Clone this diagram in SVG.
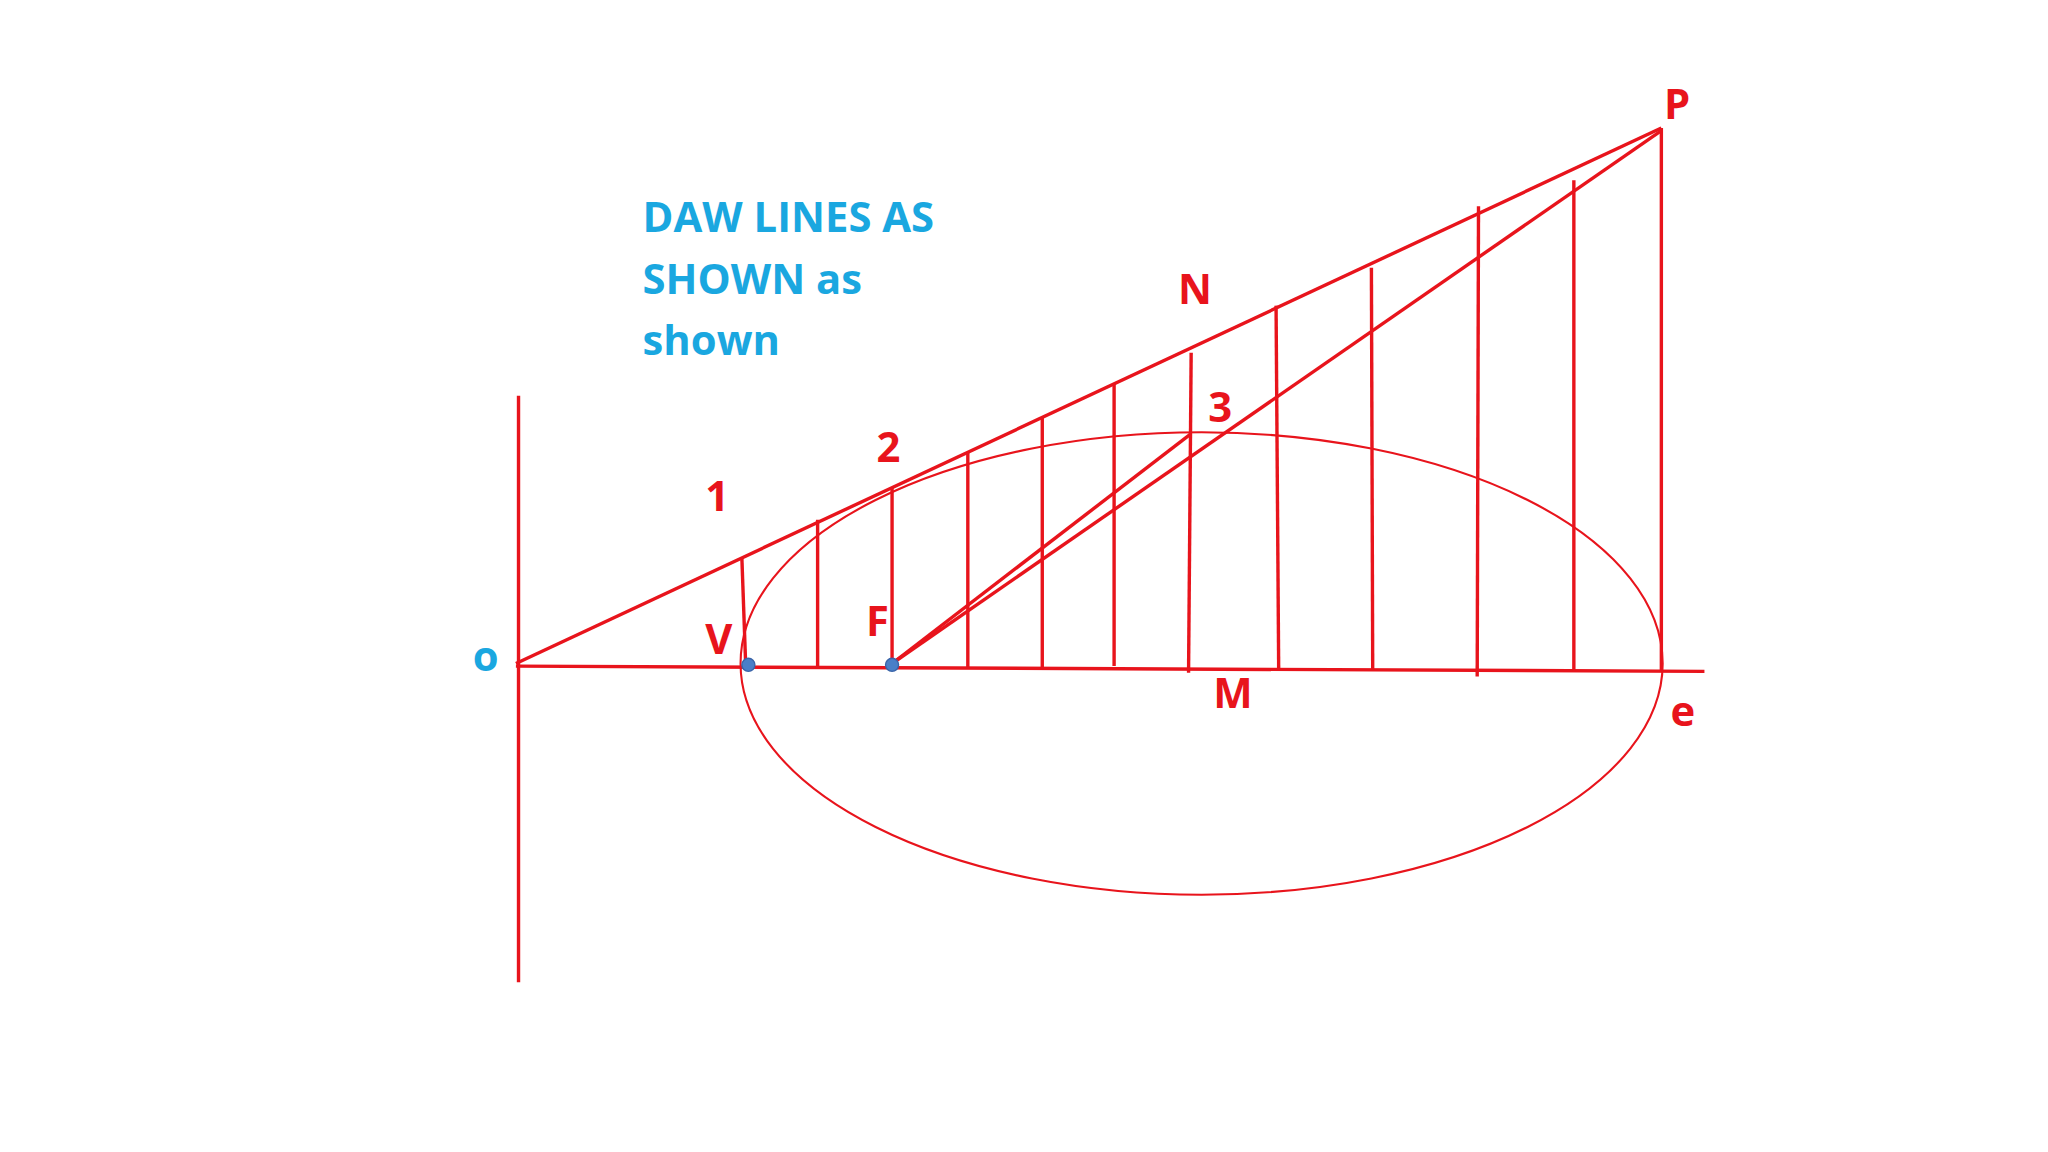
<svg xmlns="http://www.w3.org/2000/svg" width="2048" height="1152" viewBox="0 0 2048 1152">
<style>
.r{stroke:#e8141c;stroke-width:2.6;fill:none}
.t{stroke:#e8141c;stroke-width:1.6;fill:none}
.lb{font-family:"Open Sans","Liberation Sans",sans-serif;font-weight:bold;font-size:32px;fill:#e8141c}
.c{font-family:"Open Sans","Liberation Sans",sans-serif;font-weight:bold;font-size:32px;fill:#1aa7e0}
.d{fill:#4a7fc8;stroke:#3a64a8;stroke-width:1}
</style>
<rect width="2048" height="1152" fill="#fff"/>
<g transform="scale(1.3061)">
<g id="connectors">
<line class="r" x1="397" y1="303" x2="397" y2="752"/>
<line class="r" x1="395" y1="510" x2="1305" y2="514"/>
<line class="r" x1="395" y1="508" x2="1272" y2="98"/>
<line class="r" x1="1272" y1="98" x2="1272" y2="514"/>
<line class="r" x1="683" y1="508" x2="1272" y2="100"/>
<line class="r" x1="683" y1="508" x2="912" y2="332"/>
<line class="r" x1="568" y1="427" x2="571" y2="511"/>
<line class="r" x1="626" y1="398" x2="626" y2="512"/>
<line class="r" x1="683" y1="373" x2="683" y2="510"/>
<line class="r" x1="741" y1="346" x2="741" y2="512"/>
<line class="r" x1="798" y1="320" x2="798" y2="512"/>
<line class="r" x1="853" y1="294" x2="853" y2="510"/>
<line class="r" x1="912" y1="270" x2="910" y2="515"/>
<line class="r" x1="977" y1="234" x2="979" y2="512"/>
<line class="r" x1="1050" y1="205" x2="1051" y2="513"/>
<line class="r" x1="1132" y1="158" x2="1131" y2="518"/>
<line class="r" x1="1205" y1="138" x2="1205" y2="514"/>
</g>
<g id="ellipse"><ellipse class="t" cx="920" cy="508" rx="353" ry="177"/></g>
<g id="points">
<circle class="d" cx="573" cy="509" r="5"/>
<circle class="d" cx="683" cy="509" r="5"/>
</g>
<g id="labels">
<text class="c" x="362" y="514" font-size="22">o</text>
<text class="lb" x="540" y="391">1</text>
<text class="lb" x="671" y="354">2</text>
<text class="lb" x="902" y="233">N</text>
<text class="lb" x="925" y="323">3</text>
<text class="lb" x="540" y="501">V</text>
<text class="lb" x="663" y="487">F</text>
<text class="lb" x="929" y="542">M</text>
<text class="lb" x="1279" y="556">e</text>
<text class="lb" x="1274" y="91">P</text>
</g>
<g id="note">
<text class="c" x="492" y="178">DAW LINES AS</text>
<text class="c" x="492" y="225">SHOWN as</text>
<text class="c" x="492" y="272">shown</text>
</g>
</g>
</svg>
